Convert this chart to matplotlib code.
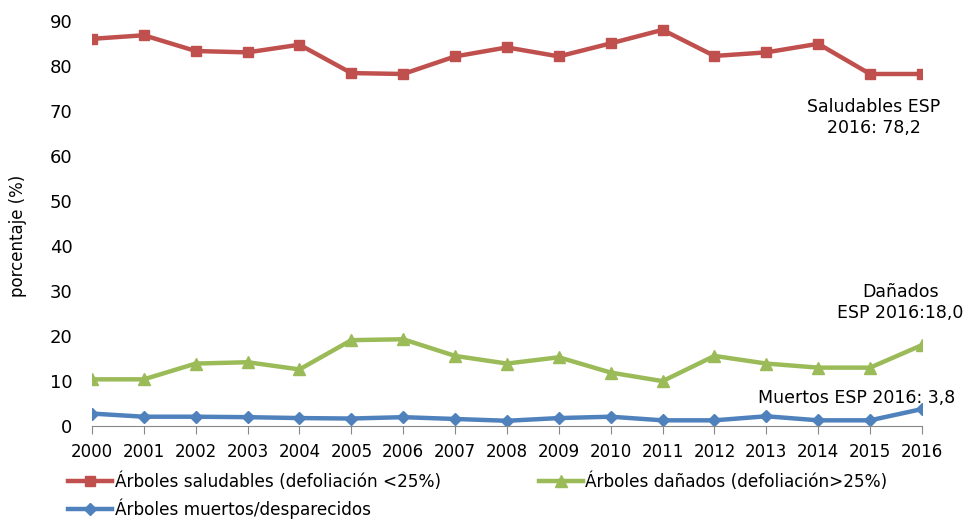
import matplotlib.pyplot as plt

years = list(range(2000, 2017))
saludables = [86.0, 86.8, 83.3, 83.0, 84.7, 78.4, 78.2, 82.1, 84.1, 82.1, 85.0, 88.0, 82.2, 83.0, 84.9, 78.2, 78.2]
danados = [10.4, 10.4, 13.9, 14.2, 12.6, 19.1, 19.3, 15.6, 13.9, 15.3, 11.9, 10.0, 15.6, 13.9, 13.0, 13.0, 18.0]
muertos = [2.8, 2.1, 2.1, 2.0, 1.8, 1.7, 2.0, 1.6, 1.2, 1.8, 2.1, 1.3, 1.3, 2.2, 1.3, 1.3, 3.8]

fig = plt.figure(figsize=(9.66, 5.21), dpi=100)
ax = fig.add_axes([0.0952, 0.182, 0.8592, 0.778])

l1, = ax.plot(years, saludables, color='#C0504D', lw=3.2, marker='s', ms=7.5)
l2, = ax.plot(years, danados, color='#9BBB59', lw=3.2, marker='^', ms=8)
l3, = ax.plot(years, muertos, color='#4F81BD', lw=3.2, marker='D', ms=6)

ax.set_xlim(2000, 2016)
ax.set_ylim(0, 90)
ax.set_yticks(range(0, 91, 10))
ax.set_xticks(years)
ax.tick_params(axis='y', length=0, labelsize=13, pad=14)
ax.tick_params(axis='x', length=6, color='#888888', labelsize=12, pad=6)
for s in ['top', 'right', 'left']:
    ax.spines[s].set_visible(False)
ax.spines['bottom'].set_color('#888888')
ax.set_ylabel('porcentaje (%)', fontsize=12)
ax.yaxis.set_label_coords(-0.078, 0.47)

ax.text(2015.07, 68.6, 'Saludables ESP\n2016: 78,2', ha='center', va='center', fontsize=12.5, linespacing=1.2)
ax.text(2015.58, 27.4, 'Dañados\nESP 2016:18,0', ha='center', va='center', fontsize=12.5, linespacing=1.2, clip_on=False)
ax.text(2014.75, 6.2, 'Muertos ESP 2016: 3,8', ha='center', va='center', fontsize=12.5, clip_on=False)

# order so that rows read: saludables, dañados / muertos
fig.legend([l1, l3, l2],
           ['Árboles saludables (defoliación <25%)', 'Árboles muertos/desparecidos',
            'Árboles dañados (defoliación>25%)'],
           ncol=2, loc='upper left', bbox_to_anchor=(0.0704, 0.093), frameon=False,
           prop={'size': 12.2}, handlelength=2.6, handletextpad=0.15,
           columnspacing=5.8, labelspacing=0.45, borderaxespad=0, borderpad=0)

fig.savefig('out.png', dpi=100)
